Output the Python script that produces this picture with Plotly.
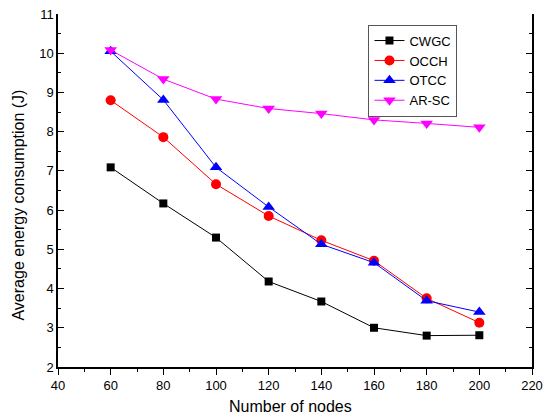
import plotly.graph_objects as go

nodes = [60, 80, 100, 120, 140, 160, 180, 200]
cwgc = [7.09, 6.17, 5.30, 4.18, 3.67, 3.00, 2.80, 2.81]
occh = [8.80, 7.86, 6.66, 5.85, 5.23, 4.71, 3.75, 3.13]
otcc = [10.05, 8.81, 7.09, 6.08, 5.13, 4.66, 3.69, 3.40]
arsc = [10.08, 9.34, 8.83, 8.59, 8.46, 8.30, 8.21, 8.11]

series = [
    ("CWGC", cwgc, "black", "square", 8),
    ("OCCH", occh, "red", "circle", 10),
    ("OTCC", otcc, "blue", "triangle-up", 11),
    ("AR-SC", arsc, "magenta", "triangle-down", 11),
]

fig = go.Figure()
for name, vals, color, sym, size in series:
    fig.add_trace(go.Scatter(
        x=nodes, y=vals, name=name, mode="lines+markers",
        line=dict(color=color, width=1),
        marker=dict(symbol=sym, size=size, color=color),
    ))

font = "Liberation Sans, Arial, sans-serif"
fig.update_layout(
    width=543, height=420,
    margin=dict(l=58, r=10.5, t=13.5, b=53, autoexpand=False),
    paper_bgcolor="white", plot_bgcolor="white",
    font=dict(family=font, size=13, color="black"),
    showlegend=True,
    legend=dict(x=0.655, y=0.97, xanchor="left", yanchor="top",
                bordercolor="#555555", borderwidth=1, bgcolor="white",
                font=dict(size=13), itemwidth=30, tracegroupgap=0),
    xaxis=dict(range=[40, 220], dtick=20, tick0=40, ticks="outside", ticklen=6,
               tickcolor="black", showline=True, linecolor="black", linewidth=1.5,
               showgrid=False, zeroline=False, automargin=False,
               ticklabeloverflow="allow",
               minor=dict(dtick=10, ticks="outside", ticklen=3, tickcolor="black")),
    xaxis2=dict(range=[40, 220], dtick=20, tick0=40, ticks="inside", ticklen=6,
                tickcolor="black", overlaying="x", side="top", anchor="y",
                showticklabels=False, showline=True, linecolor="black", linewidth=1.5,
                showgrid=False, zeroline=False, automargin=False,
                minor=dict(dtick=10, ticks="inside", ticklen=3, tickcolor="black")),
    yaxis=dict(range=[2, 11], dtick=1, ticks="inside", ticklen=6, tickcolor="black",
               showline=True, linecolor="black", linewidth=1.5, mirror="allticks",
               showgrid=False, zeroline=False, automargin=False,
               ticklabeloverflow="allow",
               minor=dict(dtick=0.5, ticks="inside", ticklen=3, tickcolor="black")),
    annotations=[
        dict(text="Number of nodes", xref="paper", yref="paper", x=0.49, y=-0.113,
             xanchor="center", yanchor="middle", showarrow=False, font=dict(size=16)),
        dict(text="Average energy consumption (J)", xref="paper", yref="paper",
             x=-0.084, y=0.458, xanchor="center", yanchor="middle", textangle=-90,
             showarrow=False, font=dict(size=16)),
    ],
)
fig.write_html("out.html", config={"displayModeBar": False},
               post_script="document.body.style.margin='0';document.body.style.overflow='hidden';")
